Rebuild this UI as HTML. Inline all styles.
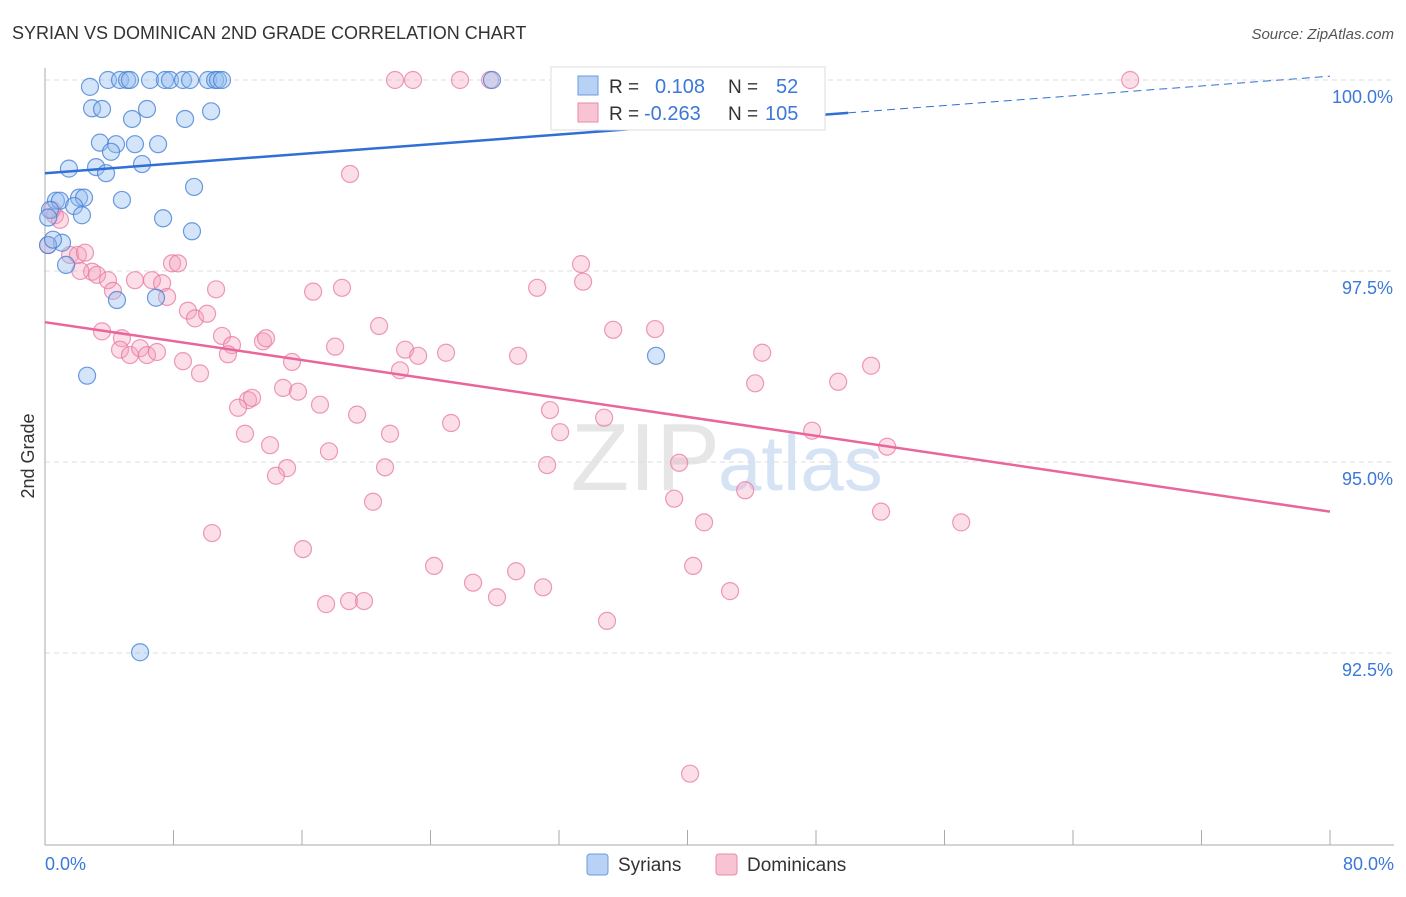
<!DOCTYPE html>
<html><head><meta charset="utf-8"><style>
body{margin:0;background:#fff;font-family:"Liberation Sans",sans-serif;}
svg text{font-family:"Liberation Sans",sans-serif;}
</style></head><body>
<svg id="chart" width="1406" height="892" viewBox="0 0 1406 892">
<text x="12" y="39" font-size="18" fill="#333">SYRIAN VS DOMINICAN 2ND GRADE CORRELATION CHART</text>
<text x="1394" y="39" font-size="15" fill="#555" font-style="italic" text-anchor="end">Source: ZipAtlas.com</text>
<text x="720" y="490" font-size="96" fill="#e6e6e6" text-anchor="end" font-family="Liberation Serif">ZIP</text>
<text x="718" y="490" font-size="78" fill="#d5e3f5">atlas</text>
<g id="grid"></g>
<g id="axes"></g>
<g id="pts"></g>
<g id="lines"></g>
<text transform="translate(34,456) rotate(-90)" font-size="18" fill="#333" text-anchor="middle">2nd Grade</text>
<g>
<rect x="551" y="67" width="274" height="63" fill="#fff" stroke="#ddd"/>
<rect x="578" y="76" width="20" height="19" fill="#b8d2f5" stroke="#6a9be0"/>
<rect x="578" y="103" width="20" height="19" fill="#f8c4d4" stroke="#e88aa8"/>
<text x="609" y="93" font-size="19" fill="#333">R =</text><text x="655" y="93" font-size="20" fill="#3b78d8">0.108</text>
<text x="728" y="93" font-size="19" fill="#333">N =</text><text x="776" y="93" font-size="20" fill="#3b78d8">52</text>
<text x="609" y="120" font-size="19" fill="#333">R =</text><text x="644" y="120" font-size="20" fill="#3b78d8">-0.263</text>
<text x="728" y="120" font-size="19" fill="#333">N =</text><text x="765" y="120" font-size="20" fill="#3b78d8">105</text>
</g>
<g>
<rect x="587" y="854" width="21" height="21" rx="3" fill="#b8d2f5" stroke="#6a9be0"/>
<text x="618" y="871" font-size="19" fill="#333">Syrians</text>
<rect x="716" y="854" width="21" height="21" rx="3" fill="#f8c4d4" stroke="#e88aa8"/>
<text x="747" y="871" font-size="19" fill="#333">Dominicans</text>
</g>
</svg>
<script>
const syrX=[3.92,4.67,5.11,5.29,6.54,7.47,7.78,8.59,9.03,10.15,10.59,10.77,11.02,27.83,47.01,2.80,2.93,3.55,6.35,5.42,8.72,10.34,3.42,4.42,5.60,7.04,4.11,3.18,1.49,6.04,3.80,9.28,4.79,0.68,0.93,2.12,2.43,1.81,2.30,7.35,9.15,1.06,1.31,4.48,6.91,2.62,38.04,5.92,0.31,0.19,0.50,0.2];
const syrY=[100,100,100,100,100,100,100,100,100,100,100,100,100,100,100,99.91,99.63,99.62,99.62,99.49,99.49,99.59,99.18,99.16,99.16,99.16,99.06,98.86,98.84,98.90,98.78,98.60,98.43,98.42,98.42,98.46,98.46,98.35,98.23,98.19,98.02,97.87,97.58,97.12,97.15,96.13,96.39,92.51,98.30,97.84,97.91,98.2];
const domX=[21.79,22.91,25.84,27.71,32.57,43.59,67.56,18.99,0.62,0.93,0.44,0.19,1.56,2.05,2.49,2.93,3.24,3.92,4.23,5.60,6.66,7.29,7.60,7.91,8.28,3.55,4.79,4.67,5.29,5.92,6.35,6.97,8.59,8.90,9.34,10.09,10.65,9.65,11.02,11.64,11.39,13.57,13.76,15.38,16.69,18.49,18.06,20.80,22.10,22.42,23.23,24.97,29.45,30.64,33.37,33.50,35.37,37.98,44.65,44.21,49.38,51.43,14.82,15.75,12.64,12.89,12.02,17.12,19.43,25.28,31.44,32.07,34.81,12.45,14.01,17.68,21.48,15.07,14.38,21.17,31.26,39.48,47.76,52.43,20.42,39.17,41.03,43.59,52.05,57.04,10.40,16.06,24.22,26.65,28.14,29.33,31.01,17.50,18.93,19.86,34.99,40.35,42.65,40.16,2.2];
const domY=[100,100,100,100,100,100,100,98.77,98.23,98.17,98.30,97.84,97.71,97.71,97.74,97.49,97.45,97.38,97.24,97.38,97.38,97.34,97.16,97.60,97.60,96.71,96.62,96.47,96.40,96.49,96.40,96.44,96.32,96.98,96.88,96.94,97.26,96.16,96.65,96.53,96.41,96.58,96.62,96.31,97.23,97.28,96.51,96.78,96.20,96.47,96.39,96.43,96.39,97.28,97.59,97.36,96.73,96.74,96.43,96.03,96.05,96.26,95.97,95.92,95.81,95.84,95.71,95.75,95.62,95.51,95.68,95.39,95.58,95.37,95.22,95.14,95.37,94.92,94.82,94.93,94.96,94.99,95.41,95.20,94.48,94.52,94.21,94.63,94.35,94.21,94.07,93.86,93.64,93.42,93.23,93.57,93.36,93.14,93.18,93.18,92.92,93.64,93.31,90.92,97.5];
const yTicks=[100,97.5,95,92.5];
const yTickLabels=["100.0%","97.5%","95.0%","92.5%"];
const xTickLabels=["0.0%","80.0%"];
const syrLine=[98.78,99.57,100.05]; // y at x=0, 50, 80
const domLine=[96.83,94.35]; // y at x=0, 80
const NS="http://www.w3.org/2000/svg";
const sx=v=>45+v*16.0625;
const sy=v=>80+(100-v)*76.4;
function mk(tag,attrs,parent){const e=document.createElementNS(NS,tag);for(const k in attrs)e.setAttribute(k,attrs[k]);parent.appendChild(e);return e;}
const grid=document.getElementById('grid'),axes=document.getElementById('axes'),pts=document.getElementById('pts'),lines=document.getElementById('lines');
yTicks.forEach((t,i)=>{
 const l=mk('line',{x1:45,x2:1394,y1:sy(t),y2:sy(t),stroke:'#ddd','stroke-dasharray':'5,4'},grid);
 
 
 const tx=mk('text',{x:1393,y:sy(t)+23,'font-size':18,fill:'#3b78d8','text-anchor':'end'},axes);
 tx.textContent=yTickLabels[i];
 
 
});
const ax=mk('line',{x1:45,x2:1394,y1:845,y2:845,stroke:'#aaa'},axes);


const ay=mk('line',{x1:45,x2:45,y1:68,y2:845,stroke:'#aaa'},axes);


for(let i=0;i<=10;i++){
 const t=mk('line',{x1:sx(i*8),x2:sx(i*8),y1:830,y2:845,stroke:'#aaa'},axes);
 
 
}
[[0,'start',45],[80,'end',1394]].forEach((a,i)=>{
 const t=mk('text',{x:a[2],y:870,'font-size':18,fill:'#3b78d8','text-anchor':a[1]},axes);
 t.textContent=xTickLabels[i];
 
 
});
domX.forEach((x,i)=>{
 const c=mk('circle',{cx:sx(x),cy:sy(domY[i]),r:8.5,fill:'rgba(244,160,190,0.35)',stroke:'rgba(232,120,160,0.75)','stroke-width':1.2},pts);
 
 
});
syrX.forEach((x,i)=>{
 const c=mk('circle',{cx:sx(x),cy:sy(syrY[i]),r:8.5,fill:'rgba(150,190,240,0.4)',stroke:'rgba(70,130,215,0.8)','stroke-width':1.2},pts);
 
 
});
const l1=mk('line',{x1:sx(0),y1:sy(syrLine[0]),x2:sx(50),y2:sy(syrLine[1]),stroke:'#2f6fd6','stroke-width':2.5},lines);


const l2=mk('line',{x1:sx(50),y1:sy(syrLine[1]),x2:sx(80),y2:sy(syrLine[2]),stroke:'#2f6fd6','stroke-width':1,'stroke-dasharray':'8,5'},lines);


const l3=mk('line',{x1:sx(0),y1:sy(domLine[0]),x2:sx(80),y2:sy(domLine[1]),stroke:'#e8669a','stroke-width':2.5},lines);


</script>
</body></html>
